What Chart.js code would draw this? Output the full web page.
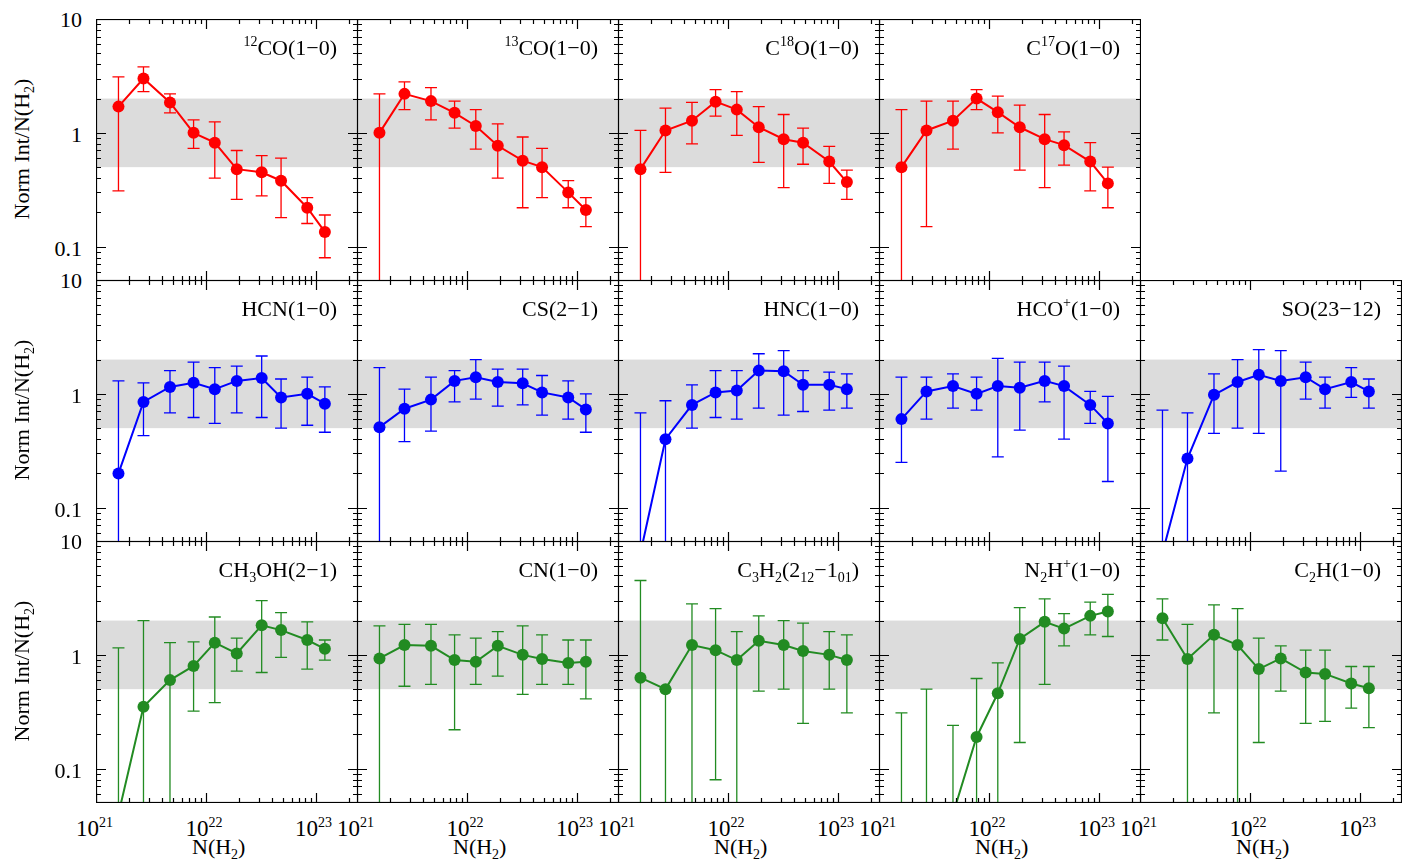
<!DOCTYPE html>
<html><head><meta charset="utf-8">
<script src="https://cdn.jsdelivr.net/npm/chart.js@4"></script>
<style>
body{margin:0;background:#fff;width:1407px;height:859px;position:relative;overflow:hidden;font-family:"Liberation Serif","DejaVu Serif",serif;}
canvas{position:absolute;}
.t{position:absolute;font-size:22px;white-space:nowrap;color:#000;line-height:1;}
sup{font-size:14px;vertical-align:0;position:relative;top:-9px;}
sub{font-size:14px;vertical-align:0;position:relative;top:5px;}
</style></head><body>
<script>
// --- данные ---
const xVals = [1.6e21, 2.7e21, 4.7e21, 7.7e21, 1.2e22, 1.9e22, 3.2e22, 4.8e22, 8.3e22, 1.2e23];
const xTicks = ['10<sup>21</sup>', '10<sup>22</sup>', '10<sup>23</sup>'];
const yTicks = ['10', '1', '0.1'];

const co12 = [1.7, 3.0, 1.85, 1.0, 0.82, 0.48, 0.45, 0.38, 0.22, 0.135];
const co12Hi = [3.1, 3.8, 2.2, 1.3, 1.25, 0.7, 0.63, 0.6, 0.27, 0.19];
const co12Lo = [0.31, 2.3, 1.5, 0.73, 0.4, 0.26, 0.28, 0.18, 0.16, 0.08];
const co13 = [1.0, 2.2, 1.9, 1.5, 1.15, 0.77, 0.57, 0.5, 0.3, 0.21];
const co13Hi = [2.2, 2.8, 2.5, 1.9, 1.6, 1.2, 0.92, 0.73, 0.38, 0.27];
const co13Lo = [0.01, 1.6, 1.3, 1.1, 0.72, 0.4, 0.22, 0.27, 0.22, 0.15];
const c18o = [0.48, 1.05, 1.28, 1.88, 1.6, 1.12, 0.88, 0.82, 0.56, 0.37];
const c18oHi = [1.05, 1.65, 1.85, 2.4, 2.3, 1.7, 1.45, 1.1, 0.76, 0.47];
const c18oLo = [0.01, 0.45, 0.8, 1.4, 0.95, 0.55, 0.33, 0.53, 0.36, 0.26];
const c17o = [0.5, 1.05, 1.28, 2.0, 1.52, 1.12, 0.88, 0.78, 0.56, 0.36];
const c17oHi = [1.6, 1.9, 1.9, 2.4, 2.1, 1.75, 1.45, 1.02, 0.82, 0.5];
const c17oLo = [0.01, 0.15, 0.72, 1.6, 1.0, 0.47, 0.33, 0.52, 0.31, 0.22];

const hcn = [0.2, 0.85, 1.15, 1.25, 1.1, 1.3, 1.38, 0.93, 1.0, 0.82];
const hcnHi = [1.3, 1.25, 1.6, 1.9, 1.7, 1.75, 2.15, 1.35, 1.4, 1.15];
const hcnLo = [0.01, 0.43, 0.68, 0.62, 0.55, 0.68, 0.62, 0.5, 0.53, 0.46];
const cs = [0.51, 0.74, 0.89, 1.3, 1.4, 1.27, 1.24, 1.03, 0.93, 0.73];
const csHi = [1.7, 1.1, 1.4, 1.6, 2.0, 1.65, 1.65, 1.45, 1.3, 1.0];
const csLo = [0.01, 0.38, 0.47, 0.85, 0.9, 0.78, 0.8, 0.65, 0.6, 0.46];
const hnc = [0.04, 0.4, 0.8, 1.03, 1.07, 1.6, 1.58, 1.2, 1.2, 1.1];
const hncHi = [0.68, 0.87, 1.2, 1.6, 1.6, 2.25, 2.4, 1.6, 1.55, 1.5];
const hncLo = [0.01, 0.01, 0.5, 0.62, 0.6, 0.75, 0.65, 0.7, 0.72, 0.75];
const hcop = [0.6, 1.05, 1.17, 1.0, 1.17, 1.13, 1.3, 1.17, 0.8, 0.55];
const hcopHi = [1.4, 1.4, 1.5, 1.4, 2.05, 1.9, 1.9, 1.75, 1.05, 0.95];
const hcopLo = [0.25, 0.6, 0.75, 0.72, 0.28, 0.48, 0.85, 0.4, 0.55, 0.17];
const so = [0.04, 0.27, 0.98, 1.27, 1.47, 1.3, 1.4, 1.1, 1.27, 1.05];
const soHi = [0.72, 0.68, 1.5, 2.0, 2.45, 2.4, 1.9, 1.4, 1.7, 1.35];
const soLo = [0.01, 0.01, 0.45, 0.5, 0.45, 0.21, 0.9, 0.75, 0.93, 0.75];

const ch3oh = [0.04, 0.35, 0.6, 0.8, 1.28, 1.03, 1.82, 1.65, 1.35, 1.13];
const ch3ohHi = [1.15, 2.0, 1.28, 1.3, 2.15, 1.4, 3.0, 2.35, 1.95, 1.35];
const ch3ohLo = [0.01, 0.01, 0.01, 0.32, 0.38, 0.72, 0.7, 0.95, 0.75, 0.9];
const cn = [0.93, 1.22, 1.2, 0.9, 0.87, 1.2, 1.0, 0.92, 0.85, 0.87];
const cnHi = [1.8, 1.85, 1.85, 1.5, 1.4, 1.6, 1.8, 1.5, 1.35, 1.35];
const cnLo = [0.01, 0.53, 0.55, 0.22, 0.55, 0.65, 0.45, 0.55, 0.55, 0.41];
const c3h2 = [0.63, 0.5, 1.22, 1.1, 0.9, 1.33, 1.22, 1.08, 1.0, 0.9];
const c3h2Hi = [4.5, 0.5, 2.8, 2.55, 1.6, 2.2, 2.0, 1.9, 1.6, 1.5];
const c3h2Lo = [0.01, 0.01, 0.01, 0.08, 0.01, 0.48, 0.5, 0.25, 0.5, 0.31];
const n2hp = [0.01, 0.01, 0.04, 0.19, 0.46, 1.38, 1.95, 1.7, 2.2, 2.4];
const n2hpHi = [0.31, 0.5, 0.24, 0.62, 0.85, 2.6, 3.1, 2.3, 2.9, 3.4];
const n2hpLo = [0.01, 0.01, 0.01, 0.05, 0.05, 0.17, 0.55, 1.2, 1.5, 1.45];
const c2h = [2.1, 0.92, 1.5, 1.22, 0.75, 0.93, 0.7, 0.68, 0.56, 0.51];
const c2hHi = [3.1, 1.85, 2.75, 2.55, 1.4, 1.2, 1.1, 1.1, 0.79, 0.79];
const c2hLo = [1.35, 0.01, 0.31, 0.01, 0.17, 0.48, 0.25, 0.26, 0.34, 0.23];

const RED = '#ff0000', BLUE = '#0000ff', GREEN = '#228b22';

const panels = [
  { row: 0, col: 0, name: '<sup>12</sup>CO(1−0)', v: co12, hi: co12Hi, lo: co12Lo, c: RED },
  { row: 0, col: 1, name: '<sup>13</sup>CO(1−0)', v: co13, hi: co13Hi, lo: co13Lo, c: RED },
  { row: 0, col: 2, name: 'C<sup>18</sup>O(1−0)', v: c18o, hi: c18oHi, lo: c18oLo, c: RED },
  { row: 0, col: 3, name: 'C<sup>17</sup>O(1−0)', v: c17o, hi: c17oHi, lo: c17oLo, c: RED },
  { row: 1, col: 0, name: 'HCN(1−0)', v: hcn, hi: hcnHi, lo: hcnLo, c: BLUE },
  { row: 1, col: 1, name: 'CS(2−1)', v: cs, hi: csHi, lo: csLo, c: BLUE },
  { row: 1, col: 2, name: 'HNC(1−0)', v: hnc, hi: hncHi, lo: hncLo, c: BLUE },
  { row: 1, col: 3, name: 'HCO<sup>+</sup>(1−0)', v: hcop, hi: hcopHi, lo: hcopLo, c: BLUE },
  { row: 1, col: 4, name: 'SO(23−12)', v: so, hi: soHi, lo: soLo, c: BLUE },
  { row: 2, col: 0, name: 'CH<sub>3</sub>OH(2−1)', v: ch3oh, hi: ch3ohHi, lo: ch3ohLo, c: GREEN },
  { row: 2, col: 1, name: 'CN(1−0)', v: cn, hi: cnHi, lo: cnLo, c: GREEN },
  { row: 2, col: 2, name: 'C<sub>3</sub>H<sub>2</sub>(2<sub>12</sub>−1<sub>01</sub>)', v: c3h2, hi: c3h2Hi, lo: c3h2Lo, c: GREEN },
  { row: 2, col: 3, name: 'N<sub>2</sub>H<sup>+</sup>(1−0)', v: n2hp, hi: n2hpHi, lo: n2hpLo, c: GREEN },
  { row: 2, col: 4, name: 'C<sub>2</sub>H(1−0)', v: c2h, hi: c2hHi, lo: c2hLo, c: GREEN }
];

const L0 = 96, T0 = 19, W = 261, H = 261;
const XMIN = 1e21, XMAX = 2.4e23, YMIN = 0.05, YMAX = 10;

function addText(html, x, y, style) {
  const d = document.createElement('div');
  d.className = 't';
  d.innerHTML = html;
  d.style.left = x + 'px'; d.style.top = y + 'px';
  if (style) Object.assign(d.style, style);
  document.body.appendChild(d);
  return d;
}

// плагин: серая полоса, ошибки, рамка и засечки
const panelPlugin = {
  id: 'panelPlugin',
  beforeDatasetsDraw(chart) {
    const { ctx, chartArea: a, scales: { x, y } } = chart;
    ctx.save();
    ctx.fillStyle = '#dcdcdc';
    const y1 = y.getPixelForValue(2), y2 = y.getPixelForValue(0.5);
    ctx.fillRect(a.left, y1, a.right - a.left, y2 - y1);
    const p = chart.options.plugins.panelPlugin;
    ctx.beginPath(); ctx.rect(a.left, a.top, a.right - a.left, a.bottom - a.top); ctx.clip();
    ctx.strokeStyle = p.color; ctx.lineWidth = 1.3;
    xVals.forEach((xv, i) => {
      const px = x.getPixelForValue(xv);
      const ph = y.getPixelForValue(p.hi[i]), pl = y.getPixelForValue(p.lo[i]);
      ctx.beginPath();
      ctx.moveTo(px, ph); ctx.lineTo(px, pl);
      ctx.moveTo(px - 6, ph); ctx.lineTo(px + 6, ph);
      ctx.moveTo(px - 6, pl); ctx.lineTo(px + 6, pl);
      ctx.stroke();
    });
    ctx.restore();
  },
  afterDraw(chart) {
    const { ctx, chartArea: a, scales: { x, y } } = chart;
    ctx.save();
    ctx.strokeStyle = '#000'; ctx.lineWidth = 1.2;
    ctx.strokeRect(a.left + 0.5, a.top + 0.5, a.right - a.left - 1, a.bottom - a.top - 1);
    ctx.beginPath();
    for (let d = 21; d <= 23; d++) {
      for (let m = 1; m <= 9; m++) {
        const v = m * Math.pow(10, d);
        if (v > XMAX) break;
        const px = Math.round(x.getPixelForValue(v)) + 0.5;
        const len = m === 1 ? 10 : 5;
        ctx.moveTo(px, a.bottom); ctx.lineTo(px, a.bottom - len);
        ctx.moveTo(px, a.top); ctx.lineTo(px, a.top + len);
      }
    }
    for (let d = -2; d <= 1; d++) {
      for (let m = 1; m <= 9; m++) {
        const v = m * Math.pow(10, d);
        if (v < YMIN || v > YMAX) continue;
        const py = Math.round(y.getPixelForValue(v)) + 0.5;
        const len = m === 1 ? 10 : 5;
        ctx.moveTo(a.left, py); ctx.lineTo(a.left + len, py);
        ctx.moveTo(a.right, py); ctx.lineTo(a.right - len, py);
      }
    }
    ctx.stroke();
    ctx.restore();
  }
};

panels.forEach(p => {
  const cv = document.createElement('canvas');
  const left = L0 + p.col * W, top = T0 + p.row * H;
  cv.style.left = left + 'px'; cv.style.top = top + 'px';
  cv.style.width = (W + 1) + 'px'; cv.style.height = (H + 1) + 'px';
  cv.width = W + 1; cv.height = H + 1;
  document.body.appendChild(cv);
  new Chart(cv, {
    type: 'line',
    data: {
      datasets: [{
        data: xVals.map((xv, i) => ({ x: xv, y: p.v[i] })),
        borderColor: p.c, backgroundColor: p.c,
        borderWidth: 2, pointRadius: 6, pointHoverRadius: 6,
        pointBorderWidth: 0, tension: 0
      }]
    },
    options: {
      responsive: false, animation: false, devicePixelRatio: 1,
      layout: { padding: 0, autoPadding: false },
      plugins: { legend: { display: false }, tooltip: { enabled: false },
        panelPlugin: { hi: p.hi, lo: p.lo, color: p.c } },
      scales: {
        x: { type: 'logarithmic', min: XMIN, max: XMAX, display: false },
        y: { type: 'logarithmic', min: YMIN, max: YMAX, display: false }
      }
    },
    plugins: [panelPlugin]
  });
  addText(p.name, 0, top + 18, { right: (1407 - (left + W - 20)) + 'px', left: 'auto' });
});

// подписи осей
for (let r = 0; r < 3; r++) {
  const top = T0 + r * H;
  const yPos = [top, top + 114.5, top + 229];
  yTicks.forEach((t, i) => {
    addText(t, 0, yPos[i] - 10, { right: (1407 - 82) + 'px', left: 'auto' });
  });
  addText('Norm Int/N(H<sub>2</sub>)', 22 - 85, top + H / 2 - 12,
    { width: '170px', textAlign: 'center', transform: 'rotate(-90deg)' });
}
for (let c = 0; c < 5; c++) {
  const left = L0 + c * W;
  const xs = [left, left + 109.5, left + 219];
  xTicks.forEach((t, i) => {
    addText(t, xs[i] - 20, 817, { fontSize: '23px' });
  });
  addText('N(H<sub>2</sub>)', left + 96, 836);
}
</script>
</body></html>
